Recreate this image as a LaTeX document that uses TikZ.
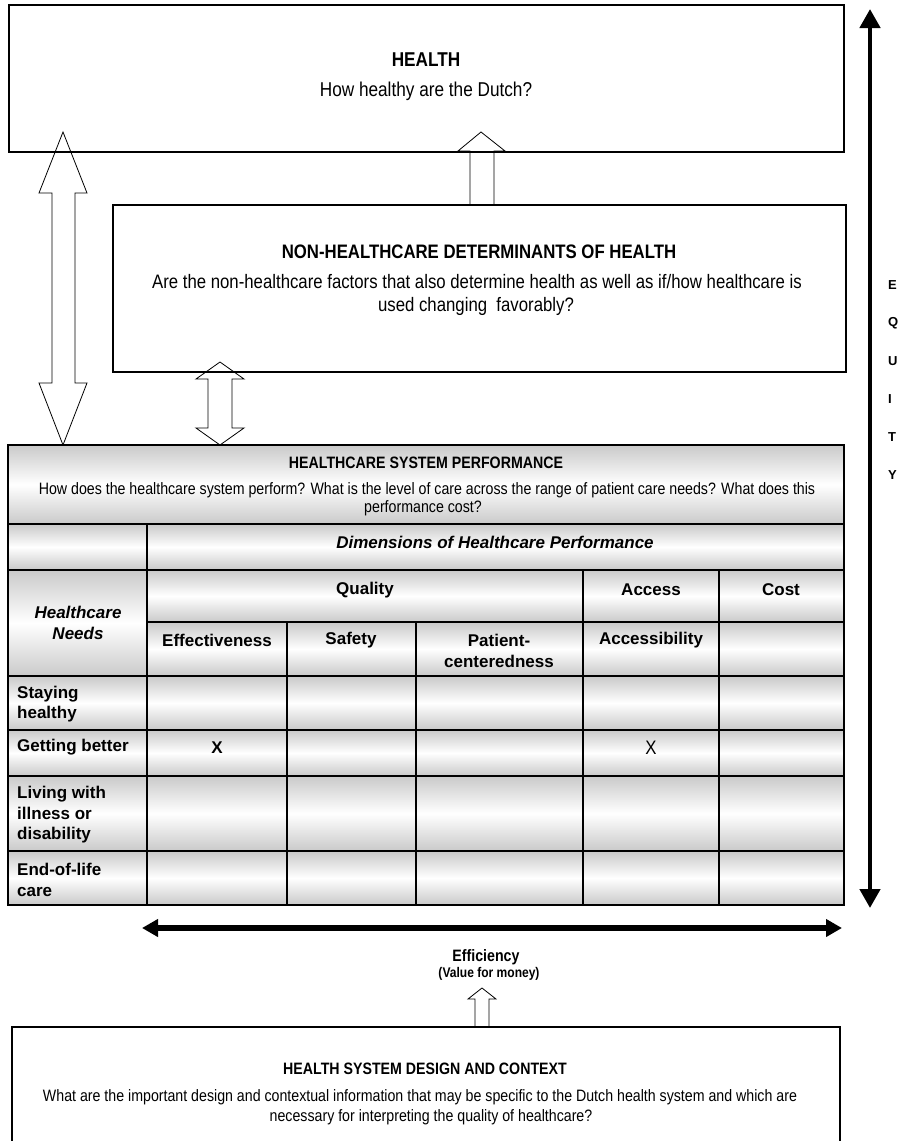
\documentclass[tikz,border=0pt]{standalone}
\usepackage{fontspec}
\setmainfont{Liberation Sans}
\newfontfamily\narrowfont[FakeStretch=0.86]{Liberation Sans}
\usetikzlibrary{arrows.meta}
\begin{document}
\begin{tikzpicture}[x=1pt,y=-1pt,
  frame/.style={draw=black,line width=1.1pt},
  blockarrow/.style={draw=black,fill=white,line width=0.8pt,line join=miter},
  cellshade/.style={top color=gray!42,bottom color=gray!42,middle color=white},
  gridline/.style={line width=1.8pt,line cap=rect},
  ttlA/.style={inner sep=0pt,font=\narrowfont\bfseries\fontsize{20}{24}\selectfont},
  subA/.style={inner sep=0pt,font=\narrowfont\fontsize{20}{24}\selectfont},
  ttlB/.style={inner sep=0pt,font=\narrowfont\bfseries\fontsize{19.5}{23}\selectfont},
  subB/.style={inner sep=0pt,font=\narrowfont\fontsize{19.5}{23}\selectfont},
  tabttl/.style={inner sep=0pt,font=\narrowfont\bfseries\fontsize{16.5}{19}\selectfont},
  tabsub/.style={inner sep=0pt,font=\narrowfont\fontsize{16.5}{19}\selectfont},
  hdr/.style={inner sep=0pt,align=center,font=\bfseries\fontsize{17}{20.5}\selectfont},
  hdrit/.style={inner sep=0pt,align=center,font=\bfseries\itshape\fontsize{17}{21}\selectfont},
  rowlab/.style={inner sep=0pt,anchor=west,align=left,font=\bfseries\fontsize{17}{20.5}\selectfont},
  eqlet/.style={inner sep=0pt,anchor=west,font=\bfseries\fontsize{13}{15}\selectfont},
  bigarrow/.style={line width=4.5pt,{Triangle[length=19pt,width=20pt]}-{Triangle[length=19pt,width=20pt]}},
  effarrow/.style={line width=6pt,{Triangle[length=16pt,width=17pt]}-{Triangle[length=16pt,width=17pt]}}
]
\useasboundingbox (0,0) rectangle (900,1141);

% ---------- block arrows (drawn first, box lines cross them) ----------
\draw[blockarrow] (63,132) -- (87,193) -- (75,193) -- (75,383) -- (87,383) -- (63,445)
   -- (39,383) -- (52,383) -- (52,193) -- (39,193) -- cycle;
\draw[blockarrow] (481,132) -- (505,151) -- (494,151) -- (494,205) -- (470,205)
   -- (470,151) -- (458,151) -- cycle;
\draw[blockarrow] (220,362) -- (244,379) -- (232,379) -- (232,428) -- (244,428) -- (220,445)
   -- (196,428) -- (208,428) -- (208,379) -- (196,379) -- cycle;
\draw[blockarrow] (482,988) -- (496,999) -- (489,999) -- (489,1027) -- (475,1027)
   -- (475,999) -- (468,999) -- cycle;

% ---------- HEALTH box ----------
\draw[frame] (9,5) rectangle (844,152);
\node[ttlA] (healthT) at (426,60) {HEALTH};
\node[subA] (healthS) at (426,91) {How healthy are the Dutch?};

% ---------- NON-HEALTHCARE box ----------
\draw[frame] (113,205) rectangle (846,372);
\node[ttlB] (nonT) at (479,252) {NON-HEALTHCARE DETERMINANTS OF HEALTH};
\node[subB] (nonS1) at (477,282) {Are the non-healthcare factors that also determine health as well as if/how healthcare is};
\node[subB] (nonS2) at (476,306) {used changing\ \ favorably?};

% ---------- table shading ----------
\shade[cellshade] (8,445) rectangle (844,524);
\shade[cellshade] (8,524) rectangle (147,570);
\shade[cellshade] (147,524) rectangle (844,570);
\shade[cellshade] (8,570) rectangle (147,676);
\foreach \xa/\xb in {147/583,583/719,719/844}
  \shade[cellshade] (\xa,570) rectangle (\xb,622);
\foreach \xa/\xb in {147/287,287/416,416/583,583/719,719/844}
  \shade[cellshade] (\xa,622) rectangle (\xb,676);
\foreach \ya/\yb in {676/730,730/776,776/851,851/905}
  \foreach \xa/\xb in {8/147,147/287,287/416,416/583,583/719,719/844}
    \shade[cellshade] (\xa,\ya) rectangle (\xb,\yb);

% ---------- table grid ----------
\draw[gridline] (8,445) rectangle (844,905);
\foreach \yy in {524,570,676,730,776,851}
  \draw[gridline] (8,\yy) -- (844,\yy);
\draw[gridline] (147,622) -- (844,622);
\draw[gridline] (147,524) -- (147,905);
\foreach \xx in {583,719}
  \draw[gridline] (\xx,570) -- (\xx,905);
\foreach \xx in {287,416}
  \draw[gridline] (\xx,622) -- (\xx,905);

% ---------- table texts ----------
\node[tabttl] (hspT) at (426,463) {HEALTHCARE SYSTEM PERFORMANCE};
\node[tabsub] (hspS1) at (427,490) {How does the healthcare system perform? What is the level of care across the range of patient care needs? What does this};
\node[tabsub] (hspS2) at (423,508) {performance cost?};
\node[hdrit] (dim) at (495,542) {Dimensions of Healthcare Performance};
\node[hdr] (qual) at (365,590) {Quality};
\node[hdr] (acc) at (651,590) {Access};
\node[hdr] (cost) at (781,590) {Cost};
\node[hdrit] (needs) at (78,623) {Healthcare\\Needs};
\node[hdr] (eff) at (217,640) {Effectiveness};
\node[hdr] (saf) at (351,640) {Safety};
\node[hdr] (pat) at (499,651) {Patient-\\centeredness};
\node[hdr] (accb) at (651,640) {Accessibility};
\node[rowlab] (r1) at (17,704) {Staying\\healthy};
\node[rowlab] (r2) at (17,747) {Getting better};
\node[rowlab] (r3) at (17,815) {Living with\\illness or\\disability};
\node[rowlab] (r4) at (17,880) {End-of-life\\care};
\node[hdr] (x1) at (217,748) {X};
\node[subB] (x2) at (651,748) {X};

% ---------- EQUITY arrow ----------
\coordinate (eqtop) at (870,9);
\coordinate (eqbot) at (870,908);
\draw[bigarrow] (eqtop) -- (eqbot);
\node[eqlet] (eE) at (888,285) {E};
\node[eqlet] (eQ) at (888,323) {Q};
\node[eqlet] (eU) at (888,361) {U};
\node[eqlet] (eI) at (888,399) {I};
\node[eqlet] (eT) at (888,437) {T};
\node[eqlet] (eY) at (888,475) {Y};

% ---------- Efficiency arrow ----------
\coordinate (efl) at (142,928);
\coordinate (efr) at (842,928);
\draw[effarrow] (efl) -- (efr);
\node[inner sep=0pt,font=\narrowfont\bfseries\fontsize{16.5}{19}\selectfont] (effT) at (486,957) {Efficiency};
\node[inner sep=0pt,font=\narrowfont\bfseries\fontsize{14}{16}\selectfont] (effS) at (489,974) {(Value for money)};

% ---------- bottom box ----------
\draw[frame] (12,1027) rectangle (840,1160);
\node[tabttl] (desT) at (425,1069) {HEALTH SYSTEM DESIGN AND CONTEXT};
\node[tabsub] (desS1) at (420,1097) {What are the important design and contextual information that may be specific to the Dutch health system and which are};
\node[tabsub] (desS2) at (431,1117) {necessary for interpreting the quality of healthcare?};
\end{tikzpicture}
\end{document}
